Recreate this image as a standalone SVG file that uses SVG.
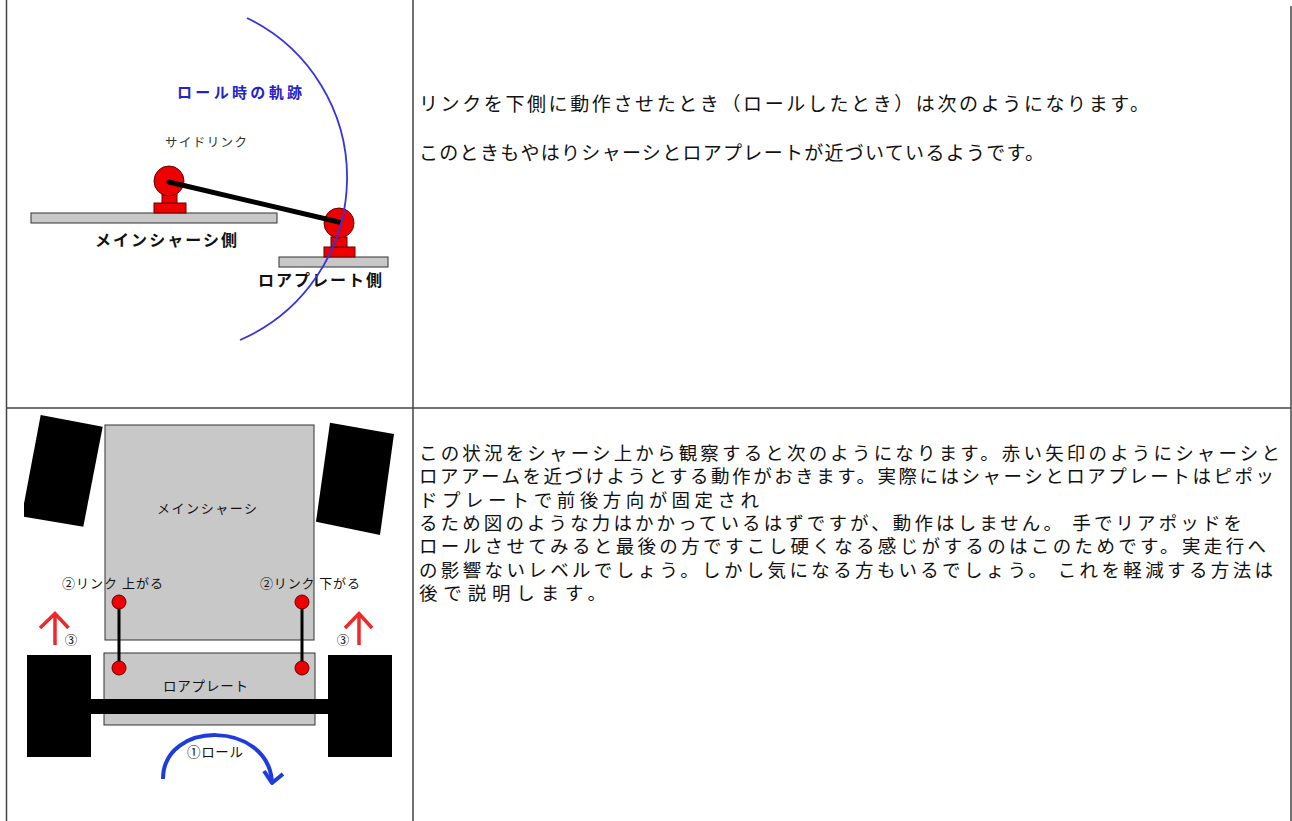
<svg xmlns="http://www.w3.org/2000/svg" width="1292" height="821" viewBox="0 0 1292 821">
  <style>
    .grid { stroke: #444; stroke-width: 1.5; fill: none; }
    .plate { fill: #c8c8c8; stroke: #333; stroke-width: 1; }
    .red { fill: #ee0000; stroke: #660000; stroke-width: 1; }
    .bar { stroke: #000; stroke-linecap: round; fill: none; }
    .wheel { fill: #000; }
    .body { font-family: "Noto Sans CJK JP", "Noto Sans", sans-serif; fill: #111; }
    .lbl { font-family: "Noto Sans CJK JP", "Noto Sans", sans-serif; fill: #111; }
    .redarrow { stroke: #f02828; stroke-width: 3.5; fill: none; stroke-linecap: butt; }
  </style>

  <rect width="1292" height="821" fill="#fff"/>

  <!-- table grid -->
  <g id="table">
    <line class="grid" x1="6.5" y1="0" x2="6.5" y2="821"/>
    <line class="grid" x1="413" y1="0" x2="413" y2="821"/>
    <line class="grid" x1="1291" y1="6" x2="1291" y2="821"/>
    <line class="grid" x1="6" y1="408" x2="1291" y2="408"/>
  </g>

  <!-- upper figure: side view of the side link while rolling -->
  <g id="side-view">
    <g id="main-chassis-plate">
      <rect class="plate" x="31" y="213" width="246" height="10"/>
      <rect class="red" x="154" y="203" width="32" height="10"/>
      <rect class="red" x="162" y="193" width="15" height="10"/>
      <circle class="red" cx="169" cy="181" r="15"/>
    </g>
    <g id="lower-plate">
      <rect class="plate" x="279" y="257" width="109" height="10"/>
      <rect class="red" x="324" y="247" width="31" height="10"/>
      <rect class="red" x="331" y="237" width="16" height="10"/>
      <circle class="red" cx="339" cy="223" r="15"/>
    </g>
    <g id="side-link-bar">
      <line class="bar" x1="169" y1="182" x2="339" y2="222" stroke-width="5"/>
    </g>
    <text class="lbl" x="177" y="97.5" font-size="15" font-weight="bold" style="fill:#2323cc" textLength="125" lengthAdjust="spacing">ロール時の軌跡</text>
    <text class="lbl" x="165" y="146.5" font-size="12.5" textLength="82" lengthAdjust="spacing" style="fill:#333">サイドリンク</text>
    <text class="lbl" x="95" y="246" font-size="16" font-weight="bold" textLength="142" lengthAdjust="spacing">メインシャーシ側</text>
    <text class="lbl" x="258" y="286" font-size="16" font-weight="bold" textLength="124" lengthAdjust="spacing">ロアプレート側</text>
    <!-- roll trajectory, drawn over the parts it crosses -->
    <path id="roll-arc" d="M247,18 A177,177 0 0 1 240,340" fill="none" stroke="#3535dd" stroke-width="1.8"/>
  </g>

  <!-- lower figure: top view -->
  <g id="top-view">
    <g id="wheels">
      <polygon class="wheel" points="40.7,415 102.7,426.7 83.3,526.7 24,516.7 24,503.5"/>
      <polygon class="wheel" points="330,422.7 394,434 380,535 316,521.7"/>
      <rect class="wheel" x="27" y="655" width="64" height="102"/>
      <rect class="wheel" x="328" y="655" width="64" height="102"/>
    </g>
    <g id="main-chassis">
      <rect class="plate" x="105" y="425" width="209" height="215"/>
      <text class="lbl" x="157" y="512.5" font-size="13" textLength="100" lengthAdjust="spacing">メインシャーシ</text>
    </g>
    <g id="lower-plate-top">
      <rect class="plate" x="104" y="653" width="211" height="72"/>
      <rect class="wheel" x="90" y="699" width="238" height="15"/>
      <text class="lbl" x="163" y="691" font-size="13.5" textLength="85" lengthAdjust="spacing">ロアプレート</text>
    </g>
    <g id="links">
      <line class="bar" x1="119" y1="602" x2="119" y2="668" stroke-width="3"/>
      <line class="bar" x1="302" y1="602" x2="302" y2="668" stroke-width="3"/>
      <circle class="red" cx="119" cy="602" r="7"/>
      <circle class="red" cx="119" cy="668" r="7"/>
      <circle class="red" cx="302" cy="602" r="7"/>
      <circle class="red" cx="302" cy="668" r="7"/>
    </g>
    <text class="lbl" x="62" y="587.5" font-size="13" textLength="101" lengthAdjust="spacing">②リンク 上がる</text>
    <text class="lbl" x="260" y="587.5" font-size="13" textLength="100" lengthAdjust="spacing">②リンク 下がる</text>
    <g id="lift-arrows">
      <path class="redarrow" d="M55,645 V614 M40,628 L55,613.5 L68.5,628"/>
      <path class="redarrow" d="M359,645 V614 M345,628 L359,613.5 L372,628"/>
    </g>
    <text class="lbl" x="71" y="644.5" font-size="12.5" text-anchor="middle">③</text>
    <text class="lbl" x="343" y="644.5" font-size="12.5" text-anchor="middle">③</text>
    <g id="roll-arrow">
      <path d="M163,779 C163,720 268,720 272,782" fill="none" stroke="#1e3cdc" stroke-width="4"/>
      <path d="M264,771 L272,783 L283,774" fill="none" stroke="#1e3cdc" stroke-width="4" stroke-linejoin="round"/>
    </g>
    <text class="lbl" x="187" y="757" font-size="13.5" textLength="56" lengthAdjust="spacing">①ロール</text>
  </g>

  <!-- explanatory text, upper cell -->
  <g id="text-upper" class="body" font-size="19">
    <text x="419" y="111" textLength="730" lengthAdjust="spacing">リンクを下側に動作させたとき（ロールしたとき）は次のようになります。</text>
    <text x="419" y="160" textLength="625" lengthAdjust="spacing">このときもやはりシャーシとロアプレートが近づいているようです。</text>
  </g>

  <!-- explanatory text, lower cell -->
  <g id="text-lower" class="body" font-size="18.5">
    <text x="419" y="460" textLength="861" lengthAdjust="spacing">この状況をシャーシ上から観察すると次のようになります。赤い矢印のようにシャーシと</text>
    <text x="419" y="483.3" textLength="855" lengthAdjust="spacing">ロアアームを近づけようとする動作がおきます。実際にはシャーシとロアプレートはピポッ</text>
    <text x="419" y="506.7" textLength="340" lengthAdjust="spacing">ドプレートで前後方向が固定され</text>
    <text x="419" y="530" textLength="823" lengthAdjust="spacing">るため図のような力はかかっているはずですが、動作はしません。 手でリアポッドを</text>
    <text x="419" y="553.3" textLength="847" lengthAdjust="spacing">ロールさせてみると最後の方ですこし硬くなる感じがするのはこのためです。実走行へ</text>
    <text x="419" y="576.7" textLength="854" lengthAdjust="spacing">の影響ないレベルでしょう。しかし気になる方もいるでしょう。 これを軽減する方法は</text>
    <text x="419" y="600" textLength="187" lengthAdjust="spacing">後で説明します。</text>
  </g>
</svg>
